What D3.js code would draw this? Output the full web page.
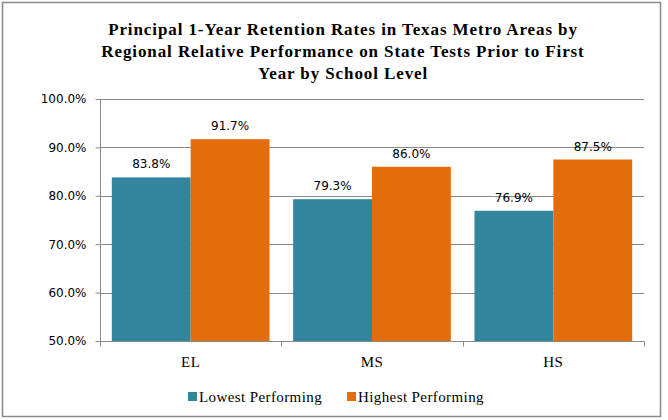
<!DOCTYPE html>
<html>
<head>
<meta charset="utf-8">
<script src="https://cdn.jsdelivr.net/npm/d3@7"></script>
<style>
  body { margin: 0; background: #fff; }
  .tick text { font-family: Tahoma, "DejaVu Sans", sans-serif; font-size: 12px; fill: #000; }
</style>
</head>
<body>
<div id="chart"></div>
<script>
// chart data
var categories = ["EL", "MS", "HS"];
var seriesNames = ["Lowest Performing", "Highest Performing"];
var lowest = [83.8, 79.3, 76.9];
var highest = [91.7, 86.0, 87.5];
var yTicks = [50, 60, 70, 80, 90, 100];
var titleLines = [
  "Principal 1-Year Retention Rates in Texas Metro Areas by",
  "Regional Relative Performance on State Tests Prior to First",
  "Year by School Level"
];
var colors = ["#31859C", "#E46C0A"];

var svgWidth = 668;
var svgHeight = 420;
var margin = { top: 99, right: 24, bottom: 79, left: 100 };
var width = 644 - margin.left;
var height = 341 - margin.top;

var svg = d3.select("#chart")
  .append("svg")
  .attr("width", svgWidth)
  .attr("height", svgHeight);

// outer border
svg.append("rect")
  .attr("x", 2.5).attr("y", 2.5)
  .attr("width", 658).attr("height", 414)
  .attr("fill", "#fff")
  .attr("stroke", "#898989")
  .attr("stroke-width", 1.5);

// title (serif bold, widely spaced like the original)
svg.append("g").selectAll("text")
  .data(titleLines)
  .enter().append("text")
  .attr("x", 343)
  .attr("y", (d, i) => 35 + i * 22)
  .attr("text-anchor", "middle")
  .attr("font-family", "'Liberation Serif', 'Times New Roman', serif")
  .attr("font-weight", "bold")
  .attr("font-size", 17)
  .attr("letter-spacing", 0.9)
  .text(d => d);

var chartGroup = svg.append("g")
  .attr("transform", `translate(${margin.left}, ${margin.top})`);

var x0 = d3.scaleBand().domain(categories).range([0, width]).paddingInner(0).paddingOuter(0);
var x1 = d3.scaleBand().domain(seriesNames).range([0, x0.bandwidth()]).paddingOuter(0.15);
var y = d3.scaleLinear().domain([50, 100]).range([height, 0]);

// gridlines
chartGroup.append("g").selectAll("line")
  .data(yTicks.slice(1))
  .enter().append("line")
  .attr("x1", 0).attr("x2", width)
  .attr("y1", d => Math.round(y(d)) + 0.5)
  .attr("y2", d => Math.round(y(d)) + 0.5)
  .attr("stroke", "#898989");

// bars
var groups = chartGroup.selectAll(".grp")
  .data(categories)
  .enter().append("g")
  .attr("transform", d => `translate(${x0(d)},0)`);

groups.each(function(cat, i) {
  var vals = [lowest[i], highest[i]];
  var g = d3.select(this);
  g.selectAll("rect")
    .data(vals)
    .enter().append("rect")
    .attr("x", (d, j) => x1(seriesNames[j]))
    .attr("width", x1.bandwidth())
    .attr("y", d => y(d))
    .attr("height", d => height - y(d))
    .attr("fill", (d, j) => colors[j]);
  g.selectAll("text")
    .data(vals)
    .enter().append("text")
    .attr("x", (d, j) => x1(seriesNames[j]) + x1.bandwidth() / 2)
    .attr("y", d => y(d) - 9)
    .attr("text-anchor", "middle")
    .attr("font-family", "Tahoma, 'DejaVu Sans', sans-serif")
    .attr("font-size", 12)
    .text(d => d.toFixed(1) + "%");
});

// y axis
var leftAxis = d3.axisLeft(y)
  .tickValues(yTicks)
  .tickSize(5)
  .tickPadding(9)
  .tickFormat(d => d.toFixed(1) + "%");
var yAxis = chartGroup.append("g")
  .attr("transform", "translate(0.5,0)")
  .call(leftAxis);
yAxis.select(".domain").attr("stroke", "#898989").attr("d", `M0,0V${height}`);
yAxis.selectAll(".tick line").attr("stroke", "#898989");

// x axis
var xAxis = chartGroup.append("g")
  .attr("transform", `translate(0,${height + 0.5})`);
xAxis.append("line")
  .attr("x1", 0).attr("x2", width)
  .attr("stroke", "#898989");
xAxis.selectAll(".xt")
  .data(d3.range(categories.length + 1))
  .enter().append("line")
  .attr("x1", d => Math.round(d * x0.step()) + 0.5)
  .attr("x2", d => Math.round(d * x0.step()) + 0.5)
  .attr("y1", 0).attr("y2", 5)
  .attr("stroke", "#898989");
xAxis.selectAll("text")
  .data(categories)
  .enter().append("text")
  .attr("x", d => x0(d) + x0.bandwidth() / 2)
  .attr("y", 25)
  .attr("text-anchor", "middle")
  .attr("font-family", "'Liberation Serif', 'Times New Roman', serif")
  .attr("font-size", 15)
  .attr("letter-spacing", 0.4)
  .text(d => d);

// legend
var legendX = [188, 347];
var legend = svg.append("g").selectAll("g")
  .data(seriesNames)
  .enter().append("g")
  .attr("transform", (d, i) => `translate(${legendX[i]},392)`);
legend.append("rect")
  .attr("width", 9).attr("height", 9)
  .attr("fill", (d, i) => colors[i]);
legend.append("text")
  .attr("x", 11)
  .attr("y", 10)
  .attr("font-family", "'Liberation Serif', 'Times New Roman', serif")
  .attr("font-size", 15)
  .attr("letter-spacing", 0.4)
  .text(d => d);
</script>
</body>
</html>
